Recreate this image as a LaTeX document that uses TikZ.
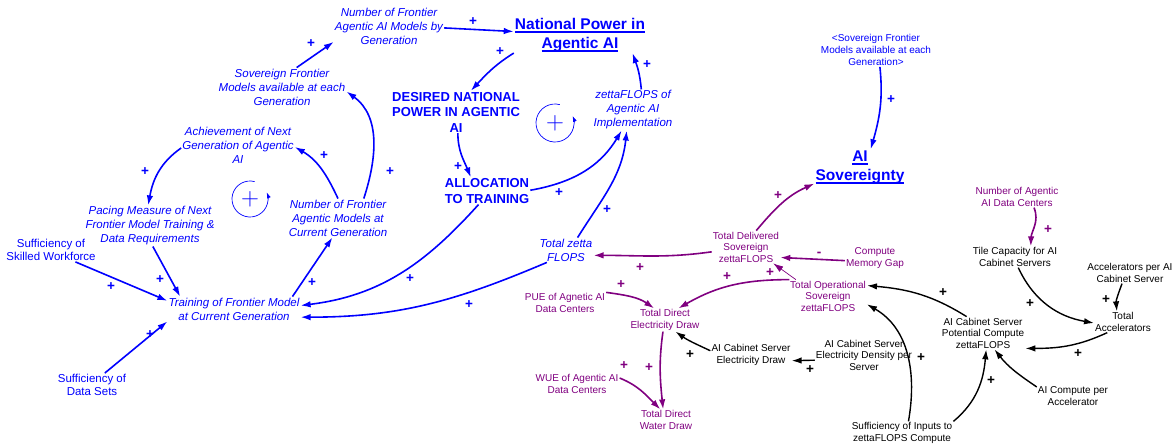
\documentclass[tikz,border=0pt]{standalone}
\usepackage{fontspec}
\setmainfont{Liberation Sans}
\usetikzlibrary{arrows.meta}
\definecolor{vblue}{RGB}{0,0,255}
\definecolor{vpurple}{RGB}{128,0,128}
\newsavebox\vulbox
\newcommand{\vul}[1]{\sbox\vulbox{#1}\rlap{\rule[-3.5pt]{\wd\vulbox}{1.4pt}}\usebox\vulbox}

\begin{document}
\begin{tikzpicture}[x=1pt,y=1pt,
		var/.style={align=center,inner sep=1pt,text=vblue,font=\fontsize{11.5}{14}\selectfont\itshape},
		extvar/.style={align=center,inner sep=1pt,text=vblue,font=\fontsize{11.5}{13}\selectfont},
		capvar/.style={align=center,inner sep=1pt,text=vblue,font=\fontsize{13}{15.5}\selectfont\bfseries},
		goalvar/.style={align=center,inner sep=1pt,text=vblue,font=\fontsize{15.5}{19}\selectfont\bfseries},
		refvar/.style={align=center,inner sep=1pt,text=vblue,font=\fontsize{10}{12}\selectfont},
		pvar/.style={align=center,inner sep=1pt,text=vpurple,font=\fontsize{10}{11.5}\selectfont},
		kvar/.style={align=center,inner sep=1pt,text=black,font=\fontsize{10}{11.5}\selectfont},
		barrow/.style={vblue,line width=1.6pt,-{Latex[length=10pt,width=6.5pt]}},
		parrow/.style={vpurple,line width=1.6pt,-{Latex[length=10pt,width=6.5pt]}},
		karrow/.style={black,line width=1.4pt,-{Latex[length=10pt,width=6.5pt]}},
		pol/.style={inner sep=0pt,font=\fontsize{13.5}{13.5}\selectfont\bfseries},
		loopsym/.style={vblue,line width=0.7pt,-{Latex[length=6pt,width=4pt]}}]
		\useasboundingbox (0,0) rectangle (1172,-446);

		% model generation loop
		\node[var] (nfg) at (389,-26) {Number of Frontier\\Agentic AI Models by\\Generation};
		\node[goalvar] (npa) at (580,-35) {\vul{National Power in}\\\vul{Agentic AI}};
		\node[var] (sfm) at (282,-87) {Sovereign Frontier\\Models available at each\\Generation};
		\node[capvar] (des) at (456,-112) {DESIRED NATIONAL\\POWER IN AGENTIC\\AI};
		\node[var] (zimp) at (633,-110) {zettaFLOPS of\\Agentic AI\\Implementation};
		\node[var] (ach) at (238,-145) {Achievement of Next\\Generation of Agentic\\AI};
		\node[var] (nfc) at (338,-218) {Number of Frontier\\Agentic Models at\\Current Generation};
		\node[var] (pac) at (150,-226) {Pacing Measure of Next\\Frontier Model Training \&\\Data Requirements};
		\node[extvar] (swf) at (51,-250) {Sufficiency of\\Skilled Workforce};
		\node[var] (tfm) at (234,-309) {Training of Frontier Model\\at Current Generation};
		\node[extvar] (sds) at (92,-385) {Sufficiency of\\Data Sets};
		\node[capvar] (alloc) at (487,-191) {ALLOCATION\\TO TRAINING};
		\node[var] (tzf) at (566,-250) {Total zetta\\FLOPS};
		\node[refvar] (sfmref) at (876,-50) {<Sovereign Frontier\\Models available at each\\Generation>};
		\node[goalvar] (ais) at (860,-167) {\vul{AI}\\\vul{Sovereignty}};

		% compute and power sector
		\node[pvar] (tds) at (746,-247) {Total Delivered\\Sovereign\\zettaFLOPS};
		\node[pvar] (cmg) at (875,-258) {Compute\\Memory Gap};
		\node[pvar] (tos) at (828,-296) {Total Operational\\Sovereign\\zettaFLOPS};
		\node[pvar] (nadc) at (1017,-197) {Number of Agentic\\AI Data Centers};
		\node[kvar] (tcs) at (1015,-257) {Tile Capacity for AI\\Cabinet Servers};
		\node[kvar] (apc) at (1130,-273) {Accelerators per AI\\Cabinet Server};
		\node[kvar] (tacc) at (1123,-322) {Total\\Accelerators};
		\node[kvar] (pcz) at (983,-333) {AI Cabinet Server\\Potential Compute\\zettaFLOPS};
		\node[kvar] (edp) at (864,-355) {AI Cabinet Server\\Electricity Density per\\Server};
		\node[kvar] (sed) at (751,-355) {AI Cabinet Server\\Electricity Draw};
		\node[pvar] (tde) at (665,-320) {Total Direct\\Electricity Draw};
		\node[pvar] (pue) at (565,-303) {PUE of Agnetic AI\\Data Centers};
		\node[pvar] (wue) at (577,-384) {WUE of Agentic AI\\Data Centers};
		\node[pvar] (tdw) at (666,-420) {Total Direct\\Water Draw};
		\node[kvar] (acpa) at (1073,-396) {AI Compute per\\Accelerator};
		\node[kvar] (sic) at (902,-433) {Sufficiency of Inputs to\\zettaFLOPS Compute};

		% blue links
		\draw[barrow] (sfm.53) -- (nfg.196);
		\draw[barrow] (nfg.-2) -- (npa.177);
		\draw[barrow] (npa.south west) to[out=212,in=47] (des.55);
		\draw[barrow] (des.-85) to[out=-90,in=112] (alloc.140);
		\draw[barrow] (alloc.1) to[out=10,in=239] (zimp.241);
		\draw[barrow] (tzf.47) to[out=58,in=264] (zimp.253);
		\draw[barrow] (zimp.68) to[out=95,in=-70] (npa.-19);
		\draw[barrow] (nfc.37) to[out=72,in=-36] (sfm.-4);
		\draw[barrow] (nfc.north) to[out=115,in=-30] (ach.-2);
		\draw[barrow] (ach.183) to[out=215,in=80] (pac.95);
		\draw[barrow] (pac.-82) -- (tfm.167);
		\draw[barrow] (swf.-26) -- (tfm.173);
		\draw[barrow] (sds.43) -- (tfm.south west);
		\draw[barrow] (tfm.12) -- (nfc.254);
		\draw[barrow] (alloc.238) to[out=228,in=7] (tfm.3);
		\draw[barrow] (tzf.213) to[out=203,in=0] (tfm.-7);
		\draw[barrow] (sfmref.-77) to[out=-84,in=74] (ais.59);

		% purple links
		\draw[parrow] (tds.58) to[out=50,in=204] (ais.200);
		\draw[parrow] (tds.188) to[out=188,in=0] (tzf.-11);
		\draw[parrow] (cmg.185) -- (tds.-17);
		\draw[parrow,line width=0.7pt] (tos.153) -- (tds.-31);
		\draw[parrow] (tos.157) to[out=180,in=30] (tde.41);
		\draw[parrow] (pue.north east) to[out=-8,in=145] (tde.133);
		\draw[parrow] (tde.260) to[out=-98,in=96] (tdw.105);
		\draw[parrow] (wue.8) to[out=-22,in=135] (tdw.118);
		\draw[parrow] (nadc.-32) to[out=-68,in=88] (tcs.34);

		% black links
		\draw[karrow] (tcs.-73) to[out=-65,in=170] (tacc.182);
		\draw[karrow] (apc.233) to[out=-110,in=95] (tacc.120);
		\draw[karrow] (tacc.214) to[out=205,in=0] (pcz.-20);
		\draw[karrow] (pcz.135) to[out=148,in=-5] (tos.15);
		\draw[karrow] (sic.61) to[out=80,in=-30] (tos.-12);
		\draw[karrow] (sic.north east) to[out=40,in=-95] (pcz.-79);
		\draw[karrow] (acpa.166) to[out=146,in=-52] (pcz.-55);
		\draw[karrow] (edp.186) -- (sed.-8);
		\draw[karrow] (sed.174) to[out=155,in=-35] (tde.-48);

		% polarities
		\foreach \x/\y [count=\i] in {311/44,473/22,500/52,458/167,559/193,607/210,647/65,390/172,324/156,145/172,160/280,111/287,150/335,312/283,410/279,469/305,891/100}
			\node[pol,text=vblue] (bpol\i) at (\x,-\y) {+};
		\foreach \x/\y [count=\i] in {778/196,640/268,727/277,770/273,621/285,649/368,624/366,1048/230}
			\node[pol,text=vpurple] (ppol\i) at (\x,-\y) {+};
		\node[pol,text=vpurple] (pneg) at (819,-254) {-};
		\foreach \x/\y [count=\i] in {1030/304,1106/300,1078/354,943/293,921/358,991/381,810/370,690/355}
			\node[pol] (kpol\i) at (\x,-\y) {+};

		% loop markers
		\coordinate (loopa) at (555,-123);
		\coordinate (loopb) at (250,-199);
		\draw[loopsym] (loopa) ++(75:19) arc[start angle=75,end angle=382,radius=19];
		\node[text=vblue,inner sep=0pt] (loopalabel) at (loopa) {\fontsize{24.88}{25}\selectfont$+$};
		\draw[loopsym] (loopb) ++(75:18) arc[start angle=75,end angle=382,radius=18];
		\node[text=vblue,inner sep=0pt] (loopblabel) at (loopb) {\fontsize{24.88}{25}\selectfont$+$};
	\end{tikzpicture}
\end{document}
